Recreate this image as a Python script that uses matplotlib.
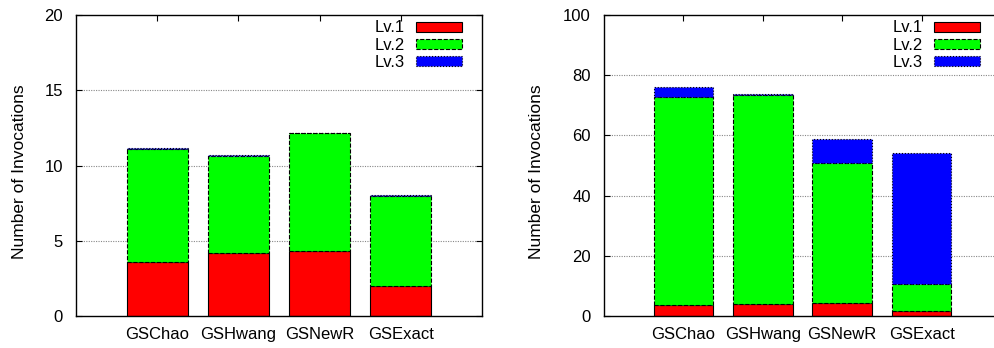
import matplotlib
matplotlib.use("Agg")
import matplotlib.pyplot as plt
import numpy as np

plt.rcParams['font.family'] = ['Liberation Sans', 'DejaVu Sans']
plt.rcParams['font.size'] = 12

categories = ["GSChao", "GSHwang", "GSNewR", "GSExact"]
levels = ["Lv.1", "Lv.2", "Lv.3"]

left_lv1 = [3.57, 4.16, 4.34, 1.99]
left_lv2 = [7.55, 6.50, 7.82, 6.00]
left_lv3 = [0.04, 0.02, 0.02, 0.06]

right_lv1 = [3.5, 3.9, 4.3, 1.7]
right_lv2 = [69.4, 69.5, 46.6, 8.8]
right_lv3 = [3.2, 0.3, 7.9, 43.5]

left_yticks = [0, 5, 10, 15, 20]
right_yticks = [0, 20, 40, 60, 80, 100]

colors = ["#ff0000", "#00ff00", "#0000ff"]
styles = ["solid", "dashed", "dotted"]

W, H = 995, 348
fig = plt.figure(figsize=(W / 100, H / 100), dpi=100)

def panel(left_px, right_px, series, yticks, leg_right_px, ylabel_x_px):
    top_px, bot_px = 15, 316
    ax = fig.add_axes([left_px / W, (H - bot_px) / H,
                       (right_px - left_px) / W, (bot_px - top_px) / H])
    x = np.arange(len(categories))
    bottom = np.zeros(len(categories))
    for vals, lab, c, ls in zip(series, levels, colors, styles):
        ax.bar(x, vals, width=0.75, bottom=bottom, color=c, edgecolor="black",
               linewidth=0.8, linestyle=ls, label=lab, zorder=3)
        bottom = bottom + np.array(vals)
    ax.set_xlim(-1, 4)
    ax.set_ylim(yticks[0], yticks[-1])
    ax.set_yticks(yticks)
    ax.set_xticks(x)
    ax.set_xticklabels(categories)
    ax.tick_params(axis="x", direction="in", top=True, bottom=False, length=4, pad=8)
    ax.tick_params(axis="y", direction="in", left=True, right=True, length=4, pad=9.5)
    for s in ax.spines.values():
        s.set_linewidth(1.0)
        s.set_zorder(5)
    for v in yticks[1:-1]:
        ax.axhline(v, color="#888888", linestyle=(0, (1, 1.2)), linewidth=0.8, zorder=1)
    ax.set_ylabel("Number of Invocations", fontsize=12.5)
    ax.yaxis.set_label_coords((ylabel_x_px - left_px) / (right_px - left_px),
                              (bot_px - 171.5) / (bot_px - top_px))
    ax.legend(loc="upper right", frameon=False, markerfirst=False,
              bbox_to_anchor=(leg_right_px / W, (H - 20.5) / H),
              bbox_transform=fig.transFigure,
              handlelength=2.76, handleheight=0.54, labelspacing=0.13,
              borderaxespad=0.0, borderpad=0.0, handletextpad=0.66, fontsize=12)
    return ax

panel(76, 482, [left_lv1, left_lv2, left_lv3], left_yticks, 462, 27)
panel(604, 1001, [right_lv1, right_lv2, right_lv3], right_yticks, 980, 544)

fig.savefig("out.png", dpi=100)
